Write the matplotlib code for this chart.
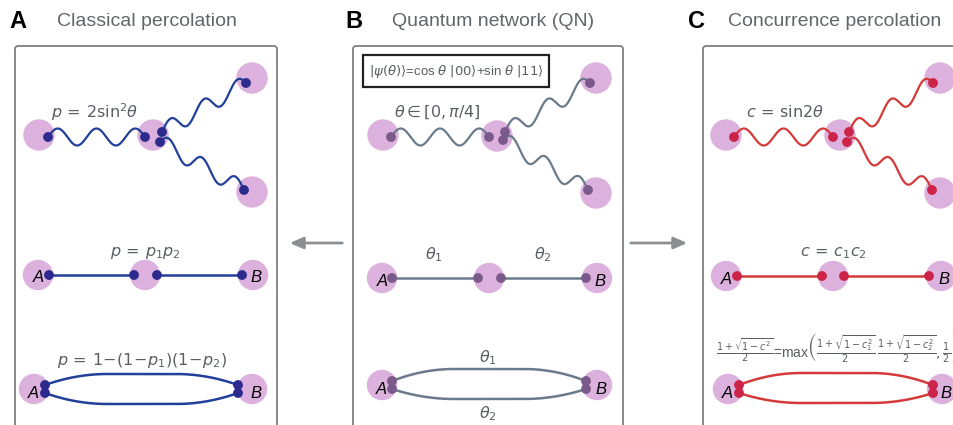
import matplotlib.pyplot as plt
import numpy as np
from matplotlib.patches import Circle, FancyBboxPatch, Rectangle

# panel titles
panel_letters = ["A", "B", "C"]
panel_titles = ["Classical percolation", "Quantum network (QN)", "Concurrence percolation"]
letter_x = [9, 345, 688]
title_x = [57, 392, 728]
box_x = [(15, 277), (353, 623), (703, 990)]

# colours per panel: node, line, dot
node_col = "#ddb1dd"
line_cols = ["#22409a", "#6b7a8a", "#d43a3a"]
dot_cols = ["#2d2a8e", "#7a5a8a", "#cc2448"]

# star network (row 1): nodes, dots, wave ends
star_nodes = [
    [(39, 135), (153, 135), (252, 78), (252, 192)],
    [(383, 135), (497, 136), (596, 78), (596, 193)],
    [(726, 135), (840, 135), (940, 78), (940, 193)],
]
star_waves = [
    [((48, 137), (145, 137)), ((162, 132), (246, 83)), ((160, 142), (244, 190))],
    [((391, 137), (489, 137)), ((505, 132), (590, 83)), ((503, 140), (588, 190))],
    [((734, 137), (833, 137)), ((849, 132), (933, 83)), ((847, 142), (932, 190))],
]
star_labels = [r"$p\,=\,\mathrm{2sin}^2\theta$", r"$\theta \in [0,\pi/4]$", r"$c\,=\,\mathrm{sin2}\theta$"]
star_label_xy = [(95, 112), (437, 112), (785, 112)]

# chain (row 2)
chain_y = [275, 278, 276]
chain_nodes_x = [[38, 145, 253], [382, 489, 597], [726, 833, 941]]
chain_dots_x = [[49, 134, 157, 242], [392, 478, 501, 586], [737, 822, 844, 929]]

# parallel (row 3)
par_y = [389, 385, 389]
par_nodes_x = [[34, 252], [382, 597], [728, 942]]
par_dots_x = [[45, 238], [392, 586], [739, 933]]
par_top = [374, 369, 373]
par_bot = [404, 399, 403]

plt.rcParams["font.family"] = ["Liberation Sans", "DejaVu Sans"]

fig = plt.figure(figsize=(9.54, 4.25), dpi=100)
ax = fig.add_axes([0, 0, 1, 1])
ax.set_xlim(0, 954)
ax.set_ylim(425, 0)
ax.axis("off")

txt_col = "#5a5e63"


def wave(p0, p1, periods=2.5, amp=8.5):
    t = np.linspace(0, 1, 300)
    x = p0[0] + t * (p1[0] - p0[0])
    y = p0[1] + t * (p1[1] - p0[1]) - amp * np.sin(2 * np.pi * periods * t)
    return x, y


def loop(x0, x1, y0, ytop, w=62):
    x = np.linspace(x0, x1, 300)
    rl = np.clip((x - x0) / w, 0, 1)
    rr = np.clip((x1 - x) / w, 0, 1)
    g = np.minimum(1 - (1 - rl) ** 2, 1 - (1 - rr) ** 2)
    return x, y0 + (ytop - y0) * g


def dot(x, y, c):
    ax.add_patch(Circle((x, y), 4.2, color=c, zorder=5))


for i in range(3):
    # headings and boxes
    ax.text(letter_x[i], 21, panel_letters[i], fontsize=17, fontweight="bold", color="black",
            va="center", ha="left")
    ax.text(title_x[i], 21, panel_titles[i], fontsize=14, color="#62666b", va="center", ha="left")
    ax.add_patch(FancyBboxPatch((box_x[i][0], 46), box_x[i][1] - box_x[i][0], 420,
                                boxstyle="round,pad=0,rounding_size=3", fc="none", ec="#808080", lw=1.3))
    lc, dc = line_cols[i], dot_cols[i]

    # row 1
    for (x, y) in star_nodes[i]:
        ax.add_patch(Circle((x, y), 15, color=node_col, zorder=1))
    for p0, p1 in star_waves[i]:
        xs, ys = wave(p0, p1)
        ax.plot(xs, ys, color=lc, lw=1.6, zorder=3)
        dot(*p0, dc)
        dot(*p1, dc)
    ax.text(*star_label_xy[i], star_labels[i], fontsize=11.5, color=txt_col, ha="center", va="center")

    # row 2
    y = chain_y[i]
    for x in chain_nodes_x[i]:
        ax.add_patch(Circle((x, y), 14.5, color=node_col, zorder=1))
    d = chain_dots_x[i]
    ax.plot([d[0], d[1]], [y, y], color=lc, lw=1.8, zorder=3)
    ax.plot([d[2], d[3]], [y, y], color=lc, lw=1.8, zorder=3)
    for x in d:
        dot(x, y, dc)
    ax.text(chain_nodes_x[i][0], y + 3, "A", fontsize=12, style="italic", ha="center", va="center", zorder=6)
    ax.text(chain_nodes_x[i][2] + 3, y + 3, "B", fontsize=12, style="italic", ha="center", va="center", zorder=6)

    # row 3
    y = par_y[i]
    for x in par_nodes_x[i]:
        ax.add_patch(Circle((x, y), 14.5, color=node_col, zorder=1))
    xa, xb = par_dots_x[i]
    xs, ys = loop(xa, xb, y - 4, par_top[i])
    ax.plot(xs, ys, color=lc, lw=1.8, zorder=3)
    xs, ys = loop(xa, xb, y + 4, par_bot[i])
    ax.plot(xs, ys, color=lc, lw=1.8, zorder=3)
    for x in (xa, xb):
        dot(x, y - 4, dc)
        dot(x, y + 4, dc)
    ax.text(par_nodes_x[i][0] - 1, y + 4, "A", fontsize=12, style="italic", ha="center", va="center", zorder=6)
    ax.text(par_nodes_x[i][1] + 4, y + 4, "B", fontsize=12, style="italic", ha="center", va="center", zorder=6)

# row labels
ax.text(145, 253, r"$p\,=\,p_1p_2$", fontsize=11.5, color=txt_col, ha="center", va="center")
ax.text(142, 360, r"$p\,=\,1\!-\!(1\!-\!p_1)(1\!-\!p_2)$", fontsize=11.5, color=txt_col, ha="center", va="center")
ax.text(434, 255, r"$\theta_1$", fontsize=11.5, color=txt_col, ha="center", va="center")
ax.text(543, 255, r"$\theta_2$", fontsize=11.5, color=txt_col, ha="center", va="center")
ax.text(488, 358, r"$\theta_1$", fontsize=11.5, color=txt_col, ha="center", va="center")
ax.text(488, 414, r"$\theta_2$", fontsize=11.5, color=txt_col, ha="center", va="center")
ax.text(833, 253, r"$c\,=\,c_1c_2$", fontsize=11.5, color=txt_col, ha="center", va="center")
ax.text(716, 348,
        r"$\frac{1+\sqrt{1-c^2}}{2}$=max$\left(\frac{1+\sqrt{1-c_1^2}}{2}\,\frac{1+\sqrt{1-c_2^2}}{2},\frac{1}{2}\right)$",
        fontsize=10, color=txt_col, ha="left", va="center")

# state box in panel B
ax.add_patch(Rectangle((363, 55), 186, 32, fc="white", ec="#222222", lw=1.6))
ax.text(456, 71, r"$|\psi(\theta)\rangle$=cos $\theta$ $|00\rangle$+sin $\theta$ $|11\rangle$",
        fontsize=9.5, color=txt_col, ha="center", va="center")

# arrows between panels
ax.annotate("", xy=(287, 243), xytext=(345, 243),
            arrowprops=dict(arrowstyle="-|>,head_length=0.8,head_width=0.35", color="#8a8f94", lw=2))
ax.annotate("", xy=(690, 243), xytext=(628, 243),
            arrowprops=dict(arrowstyle="-|>,head_length=0.8,head_width=0.35", color="#8a8f94", lw=2))

fig.savefig("out.png", dpi=100)
